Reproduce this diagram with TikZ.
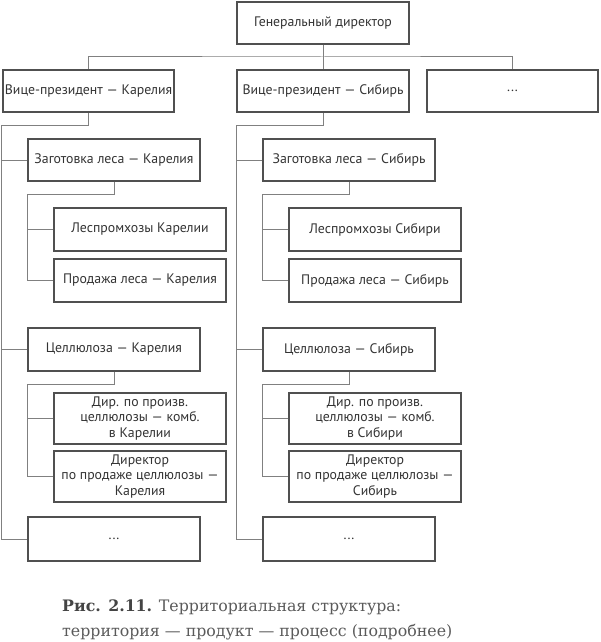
\documentclass[tikz,border=0pt]{standalone}
\usepackage{fontspec}
\setmainfont{PT Sans}
\newfontfamily\capfont{DejaVu Serif}
\definecolor{boxc}{HTML}{505050}
\definecolor{linec}{HTML}{808080}
\definecolor{txtc}{HTML}{333333}
\definecolor{capc}{HTML}{5A5A5A}
\definecolor{capb}{HTML}{444444}
\begin{document}
\begin{tikzpicture}[x=1pt,y=-1pt,
  box/.style={draw=boxc, line width=1.5pt, minimum width=172pt, minimum height=42pt,
    inner sep=1pt, align=center, text=txtc, font=\fontsize{13.8}{15.5}\selectfont},
  conn/.style={draw=linec, line width=1pt},
  captext/.style={anchor=base west, inner sep=0pt, text=capc, font=\capfont\fontsize{15.8}{18}\selectfont}]
\useasboundingbox (0,0) rectangle (600,642);
% top level
\node[box] (gd) at (323,23) {Генеральный директор};
\node[box, minimum width=171pt] (vpk) at (88.5,91) {Вице-президент — Карелия};
\node[box] (vps) at (323,91) {Вице-президент — Сибирь};
\node[box, minimum width=171pt] (vpd) at (512.5,91) {...};
% Karelia
\node[box] (zk) at (114,160) {Заготовка леса — Карелия};
\node[box, minimum height=43pt] (lk) at (140,229.5) {Леспромхозы Карелии};
\node[box, minimum height=43pt] (pk) at (140,280.5) {Продажа леса — Карелия};
\node[box, minimum height=43pt] (ck) at (114,349.5) {Целлюлоза — Карелия};
\node[box, minimum height=51pt] (dpk) at (140,418.5) {Дир. по произв.\\целлюлозы — комб.\\в Карелии};
\node[box, minimum height=51pt] (dsk) at (140,476.5) {Директор\\по продаже целлюлозы —\\Карелия};
\node[box, minimum height=44pt] (dk) at (114,539) {...};
% Siberia
\node[box] (zs) at (349,160) {Заготовка леса — Сибирь};
\node[box, minimum height=43pt] (ls) at (375,229.5) {Леспромхозы Сибири};
\node[box, minimum height=43pt] (ps) at (375,280.5) {Продажа леса — Сибирь};
\node[box, minimum height=43pt] (cs) at (349,349.5) {Целлюлоза — Сибирь};
\node[box, minimum height=51pt] (dps) at (375,418.5) {Дир. по произв.\\целлюлозы — комб.\\в Сибири};
\node[box, minimum height=51pt] (dss) at (375,476.5) {Директор\\по продаже целлюлозы —\\Сибирь};
\node[box, minimum height=44pt] (ds) at (349,539) {...};
% top bus
\coordinate (bus) at (323,57);
\draw[conn] (gd.south) -- (bus);
\draw[conn] (vpk.north) |- (bus) -| (vpd.north);
\draw[conn] (bus) -- (vps.north);
% Karelia trunk
\coordinate (tk) at (1.5,125);
\draw[conn] (vpk.south) |- (tk) -- (tk |- dk.west) -- (dk.west);
\draw[conn] (zk.west) -- (tk |- zk.west);
\draw[conn] (ck.west) -- (tk |- ck.west);
\coordinate (sk1) at (27,194);
\draw[conn] (zk.south) |- (sk1) |- (pk.west);
\draw[conn] (lk.west) -- (sk1 |- lk.west);
\coordinate (sk2) at (27,384);
\draw[conn] (ck.south) |- (sk2) |- (dsk.west);
\draw[conn] (dpk.west) -- (sk2 |- dpk.west);
% Siberia trunk
\coordinate (ts) at (236,125);
\draw[conn] (vps.south) |- (ts) -- (ts |- ds.west) -- (ds.west);
\draw[conn] (zs.west) -- (ts |- zs.west);
\draw[conn] (cs.west) -- (ts |- cs.west);
\coordinate (ss1) at (262,194);
\draw[conn] (zs.south) |- (ss1) |- (ps.west);
\draw[conn] (ls.west) -- (ss1 |- ls.west);
\coordinate (ss2) at (262,384);
\draw[conn] (cs.south) |- (ss2) |- (dss.west);
\draw[conn] (dps.west) -- (ss2 |- dps.west);
% caption
\node[captext] (cap1) at (62,611.5) {\textcolor{capb}{\textbf{Рис. 2.11.}} Территориальная структура:};
\node[captext] (cap2) at (62,636.5) {территория — продукт — процесс (подробнее)};
\end{tikzpicture}
\end{document}
